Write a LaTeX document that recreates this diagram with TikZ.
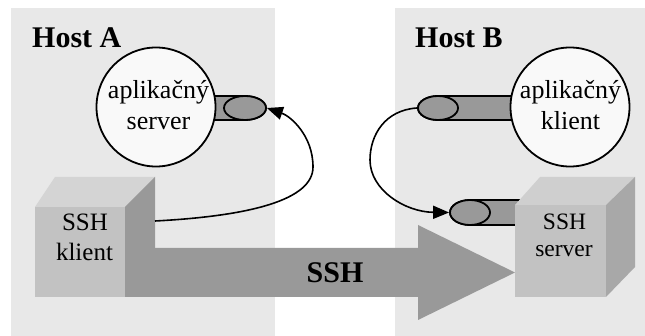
\documentclass[tikz,border=0pt]{standalone}
\usepackage{fontspec}
\setmainfont{Liberation Serif}
\usetikzlibrary{arrows.meta,shapes.geometric}

\definecolor{panelgray}{gray}{0.91}
\definecolor{portgray}{gray}{0.60}
\definecolor{tubegray}{gray}{0.60}
\definecolor{appfill}{gray}{0.975}
\definecolor{cfront}{gray}{0.76}
\definecolor{ctop}{gray}{0.83}
\definecolor{cside}{gray}{0.60}
\definecolor{sfront}{gray}{0.76}
\definecolor{stop}{gray}{0.81}
\definecolor{sside}{gray}{0.66}

\tikzset{
  panel/.style={fill=panelgray},
  hostlabel/.style={anchor=base west, inner sep=0, font=\fontsize{30}{34}\selectfont\bfseries},
  app/.style={circle, draw, line width=1.8pt, fill=appfill, minimum size=119pt, inner sep=0},
  apptext/.style={anchor=base, inner sep=0, font=\fontsize{26}{30}\selectfont},
  boxtext/.style={anchor=base, inner sep=0, font=\fontsize{25}{30}\selectfont},
  srvtext/.style={anchor=base, inner sep=0, font=\fontsize{23.5}{27}\selectfont},
  portbody/.style={draw, line width=1.8pt, fill=portgray},
  portcap/.style={ellipse, draw, line width=1.8pt, fill=portgray, inner sep=0},
  link/.style={line width=1.6pt, -{Triangle[length=16pt,width=13pt]}},
}

\begin{document}
\begin{tikzpicture}[x=1pt, y=-1pt]
\useasboundingbox (0,0) rectangle (645,336);
\fill[white] (0,0) rectangle (645,336);

% host panels
\fill[panel] (11,8) rectangle (275,336);
\fill[panel] (395,8) rectangle (645,336);
\node[hostlabel] (hostA) at (32,48) {Host A};
\node[hostlabel] (hostB) at (415,48) {Host B};

% SSH tunnel arrow
\fill[tubegray] (125,248) -- (418,248) -- (418,225) -- (515,272.5)
  -- (418,320) -- (418,297) -- (125,297) -- cycle;
\node[anchor=base, inner sep=0, font=\fontsize{30}{34}\selectfont\bfseries] (tunnel) at (335,283) {SSH};

% SSH client box
\fill[ctop] (35,207) -- (125,207) -- (155,177) -- (55,177) -- cycle;
\fill[cside] (125,207) -- (155,177) -- (155,267) -- (125,297) -- cycle;
\fill[cfront] (35,207) rectangle (125,297);
\node[boxtext] (clientA) at (85,231) {SSH};
\node[boxtext] (clientB) at (84.5,261) {klient};
\coordinate (clientSide) at (155,221);

% port cylinders (drawn before the apps and the server box that hide their ends)
\filldraw[portbody] (156,96) -- (245,96) arc[start angle=-90, end angle=90, x radius=21, y radius=12]
  -- (156,120) -- cycle;
\node[portcap, minimum width=42pt, minimum height=24pt] (portA) at (245,108) {};

\filldraw[portbody] (570,96) -- (438,96) arc[start angle=-90, end angle=-270, x radius=20, y radius=12]
  -- (570,120) -- cycle;
\node[portcap, minimum width=40pt, minimum height=24pt] (portB1) at (438,108) {};

\filldraw[portbody] (520,200) -- (470,200) arc[start angle=-90, end angle=-270, x radius=20, y radius=12.5]
  -- (520,225) -- cycle;
\node[portcap, minimum width=40pt, minimum height=25pt] (portB2) at (470,212.5) {};

% SSH server box
\fill[stop] (515,205) -- (606,205) -- (635,177) -- (540,177) -- cycle;
\fill[sside] (606,205) -- (635,177) -- (635,267) -- (606,297) -- cycle;
\fill[sfront] (515,205) rectangle (606,297);
\node[srvtext] (serverA) at (564.5,230) {SSH};
\node[srvtext] (serverB) at (564,257) {server};

% application circles
\node[app] (appA) at (156,107) {};
\node[apptext] (appAl1) at (158.5,99) {aplikačný};
\node[apptext] (appAl2) at (158.5,130) {server};
\node[app] (appB) at (570,107) {};
\node[apptext] (appBl1) at (570.5,99) {aplikačný};
\node[apptext] (appBl2) at (570.5,130) {klient};

% forwarding links
\draw[link] (clientSide) .. controls (250,216) and (313,200) .. (313,167)
  .. controls (313,135) and (290,116) .. (portA.east);
\draw[link] (portB1.west) .. controls (385,110) and (370,135) .. (370,160)
  .. controls (370,190) and (405,212) .. (portB2.west);
\end{tikzpicture}
\end{document}
